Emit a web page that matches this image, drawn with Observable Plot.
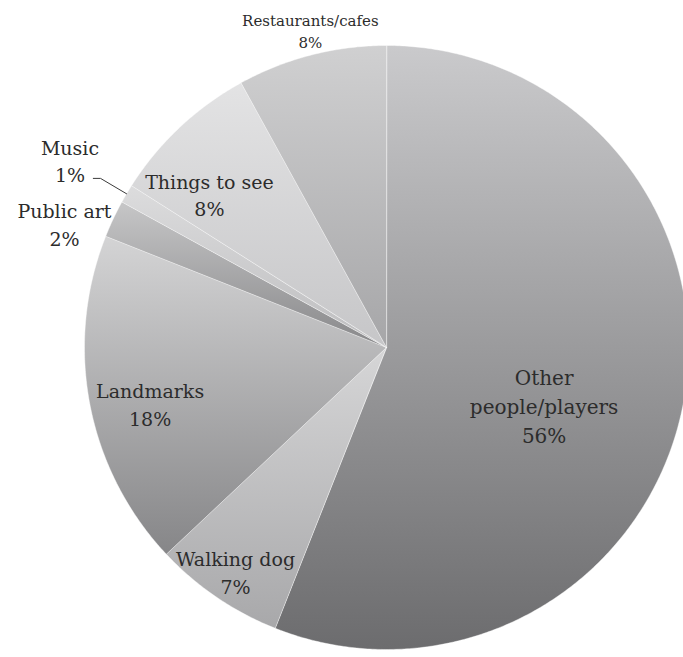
<!DOCTYPE html>
<html><head><meta charset="utf-8">
<script src="https://cdn.jsdelivr.net/npm/d3@7"></script>
<script src="https://cdn.jsdelivr.net/npm/@observablehq/plot@0.6"></script>
<style>body{margin:0;background:#fff} #chart svg{display:block;background:#fff}</style>
</head><body><div id="chart"></div>
<script>
// ---- data ----
const categories = ["Other people/players", "Walking dog", "Landmarks", "Public art", "Music", "Things to see", "Restaurants/cafes"];
const values = [56, 7, 18, 2, 1, 8, 8];
const labelTexts = ["Other\npeople/players", "Walking dog", "Landmarks", "Public art", "Music", "Things to see", "Restaurants/cafes"];

// ---- style / layout config ----
const gradTop    = ["#cacacc", "#d6d6d7", "#d4d4d5", "#c6c6c7", "#dcdcdd", "#e3e3e4", "#d0d0d1"];
const gradBottom = ["#6c6c6e", "#a8a8aa", "#868688", "#88888a", "#bdbdbf", "#c6c6c8", "#a6a6a8"];
const labelRadius = [0.555, 0.894, 0.804, 1.143, 1.219, 0.777, 1.08];
const labelShiftDeg = [9.1, -0.2, -2.4, -4.1, 0.1, -5.8, 0.9];
const labelSize = [20, 19, 19, 19, 19, 19, 15];

const W = 683, H = 657;
const arcs = d3.pie().sort(null).value(d => d)(values);

// slice polygons (unit-radius data space, y up)
const polys = [];
arcs.forEach((a, i) => {
  const n = Math.max(4, Math.ceil((a.endAngle - a.startAngle) / (Math.PI / 360)));
  polys.push({i, x: 0, y: 0});
  for (let k = 0; k <= n; k++) {
    const t = a.startAngle + (a.endAngle - a.startAngle) * k / n;
    polys.push({i, x: Math.sin(t), y: Math.cos(t)});
  }
});

const labels = arcs.map((a, i) => {
  const t = (a.startAngle + a.endAngle) / 2 + labelShiftDeg[i] * Math.PI / 180;
  return {x: labelRadius[i] * Math.sin(t), y: labelRadius[i] * Math.cos(t),
          text: `${labelTexts[i]}\n${values[i]}%`, size: labelSize[i]};
});

// leader line for the small "Music" slice
const mi = categories.indexOf("Music");
const mt = (arcs[mi].startAngle + arcs[mi].endAngle) / 2;
const leader = [
  {x: Math.sin(mt), y: Math.cos(mt)},
  {x: 1.10 * Math.sin(mt), y: 1.10 * Math.cos(mt)},
  {x: 1.10 * Math.sin(mt) - 0.024, y: 1.10 * Math.cos(mt)}
];

const cx = 386, cy = 347, R = 302;
const chart = Plot.plot({
  width: W, height: H,
  margin: 0,
  x: {domain: [-cx / R, (W - cx) / R], axis: null},
  y: {domain: [-(H - cy) / R, cy / R], axis: null},
  color: {type: "identity"},
  marks: [
    Plot.line(polys, {x: "x", y: "y", z: "i", fill: d => `url(#sg${d.i})`,
      stroke: "#ffffff", strokeOpacity: 0.5, strokeWidth: 0.8, curve: "linear-closed"}),
    Plot.line(leader, {x: "x", y: "y", stroke: "#3a3a3a", strokeWidth: 1}),
    Plot.text(labels, {x: "x", y: "y", text: "text", fontSize: d => d.size,
      lineHeight: 1.45, fontFamily: "DejaVu Serif", fill: "#2c2c2c"})
  ]
});

const ns = "http://www.w3.org/2000/svg";
const defs = document.createElementNS(ns, "defs");
values.forEach((v, i) => {
  const g = document.createElementNS(ns, "linearGradient");
  g.setAttribute("id", `sg${i}`);
  g.setAttribute("x1", "0"); g.setAttribute("y1", "0");
  g.setAttribute("x2", "0"); g.setAttribute("y2", "1");
  [[0, gradTop[i]], [1, gradBottom[i]]].forEach(([o, c]) => {
    const s = document.createElementNS(ns, "stop");
    s.setAttribute("offset", o); s.setAttribute("stop-color", c);
    g.appendChild(s);
  });
  defs.appendChild(g);
});
chart.insertBefore(defs, chart.firstChild);
document.getElementById("chart").appendChild(chart);
</script>
</body></html>
